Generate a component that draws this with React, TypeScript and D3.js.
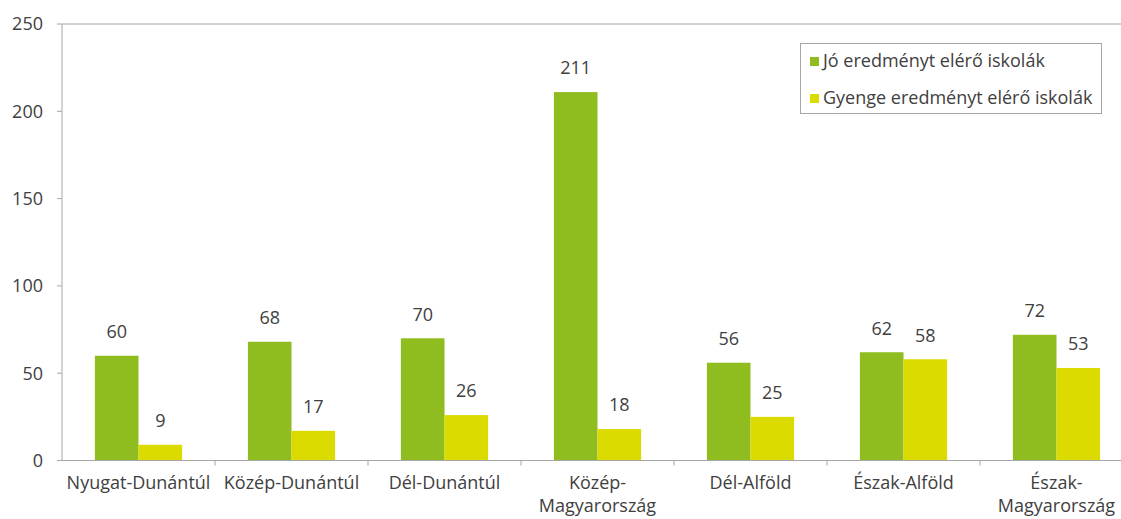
import React from "react";
import * as d3 from "d3";

const categories: string[][] = [
  ["Nyugat-Dunántúl"],
  ["Közép-Dunántúl"],
  ["Dél-Dunántúl"],
  ["Közép-", "Magyarország"],
  ["Dél-Alföld"],
  ["Észak-Alföld"],
  ["Észak-", "Magyarország"],
];
const goodSchools = [60, 68, 70, 211, 56, 62, 72];
const weakSchools = [9, 17, 26, 18, 25, 58, 53];
const seriesNames = ["Jó eredményt elérő iskolák", "Gyenge eredményt elérő iskolák"];
const seriesColors = ["#8fbc1f", "#dcdb00"];
const yTicks = [0, 50, 100, 150, 200, 250];

const W = 1121;
const H = 519;
const left = 62;
const right = 1133;
const top = 24;
const bottom = 460.5;
const font = "'Open Sans', Lato, sans-serif";
const fs = 18;
const textColor = "#404040";
const axisColor = "#a6a6a6";

export default function App() {
  const keys = categories.map((_, i) => String(i));
  const x = d3.scaleBand<string>().domain(keys).range([left, right]).paddingInner(0.43).paddingOuter(0.215);
  const xs = d3.scaleBand<number>().domain([0, 1]).range([0, x.bandwidth()]);
  const y = d3.scaleLinear().domain([0, 250]).range([bottom, top]);
  const step = x.step();
  const series = [goodSchools, weakSchools];

  return (
    <svg width={W} height={H} style={{ position: "absolute", left: 0, top: 0, background: "#fff" }} fontFamily={font}>
      {/* top border line */}
      <line x1={left} x2={W} y1={y(250)} y2={y(250)} stroke={axisColor} strokeWidth={1} />
      {/* y axis */}
      <line x1={left} x2={left} y1={y(250)} y2={bottom} stroke={axisColor} strokeWidth={1} />
      {yTicks.map((t) => (
        <g key={t}>
          <line x1={left - 5} x2={left} y1={y(t)} y2={y(t)} stroke={axisColor} />
          <text x={43} y={y(t)} dy="0.35em" textAnchor="end" fontSize={fs} fill={textColor}>
            {t}
          </text>
        </g>
      ))}
      {/* bars */}
      {series.map((vals, s) =>
        vals.map((v, i) => {
          const bx = (x(String(i)) as number) + (xs(s) as number);
          return (
            <g key={`${s}-${i}`}>
              <rect x={bx} y={y(v)} width={xs.bandwidth()} height={bottom - y(v)} fill={seriesColors[s]} />
              <text x={bx + xs.bandwidth() / 2} y={y(v) - 24} dy="0.35em" textAnchor="middle" fontSize={fs} fill={textColor}>
                {v}
              </text>
            </g>
          );
        })
      )}
      {/* x axis */}
      <line x1={left - 5} x2={W} y1={bottom} y2={bottom} stroke={axisColor} strokeWidth={1} />
      {keys.map((k, i) => (
        <line key={k} x1={left + step * (i + 1)} x2={left + step * (i + 1)} y1={bottom} y2={bottom + 5} stroke={axisColor} />
      ))}
      {categories.map((lines, i) => {
        const cx = (x(String(i)) as number) + x.bandwidth() / 2;
        return (
          <text key={i} x={cx} y={489} textAnchor="middle" fontSize={fs} fill={textColor}>
            {lines.map((l, j) => (
              <tspan key={j} x={cx} dy={j === 0 ? 0 : 23}>
                {l}
              </tspan>
            ))}
          </text>
        );
      })}
      {/* legend */}
      <rect x={800.5} y={43.5} width={301} height={70} fill="#fff" stroke="#a6a6a6" />
      {seriesNames.map((n, i) => (
        <g key={n}>
          <rect x={810} y={57 + i * 37} width={9} height={9} fill={seriesColors[i]} />
          <text x={823} y={61 + i * 37} dy="0.35em" fontSize={fs} fill={textColor}>
            {n}
          </text>
        </g>
      ))}
    </svg>
  );
}
